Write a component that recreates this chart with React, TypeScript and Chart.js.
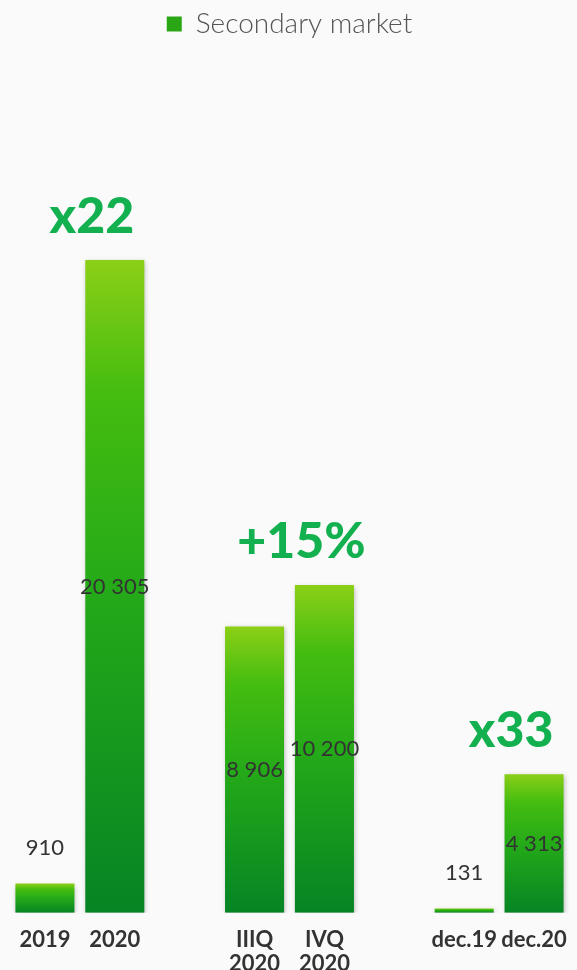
import React, { useEffect, useRef } from "react";
import { Chart, registerables } from "chart.js";

Chart.register(...registerables);

const categories: (string | string[])[] = ["2019", "2020", "", ["IIIQ", "2020"], ["IVQ", "2020"], "", "dec.19", "dec.20"];
const secondaryMarket: (number | null)[] = [910, 20305, null, 8906, 10200, null, 131, 4313];
const seriesName = "Secondary market";
const annotationTexts = ["x22", "+15%", "x33"];
const annotationPairs: number[][] = [[0, 1], [3, 4], [6, 7]];

const FONT = "Lato, 'Open Sans', sans-serif";

function fmt(v: number) {
  return String(v).replace(/\B(?=(\d{3})+(?!\d))/g, " ");
}

function barGradient(ctx: any) {
  const chart = ctx.chart;
  const raw = ctx.raw;
  if (ctx.type !== "data" || !chart.chartArea || raw == null || !chart.scales || !chart.scales.y) return "#2aa514";
  const y = chart.scales.y;
  const top = y.getPixelForValue(raw);
  const bottom = y.getPixelForValue(0);
  if (!isFinite(top) || !isFinite(bottom) || bottom - top < 0.5) return "#2aa514";
  const g = chart.ctx.createLinearGradient(0, top, 0, bottom);
  g.addColorStop(0, "#8ccf17");
  g.addColorStop(0.2, "#45bd10");
  g.addColorStop(0.5, "#25aa18");
  g.addColorStop(1, "#068424");
  return g;
}

const shadowPlugin = {
  id: "barShadow",
  beforeDatasetDraw(chart: any) {
    const c = chart.ctx;
    c.save();
    c.shadowColor = "rgba(0,0,0,0.28)";
    c.shadowBlur = 5;
    c.shadowOffsetX = 1;
    c.shadowOffsetY = 2;
  },
  afterDatasetDraw(chart: any) {
    chart.ctx.restore();
  },
};

const labelsPlugin = {
  id: "valueLabels",
  afterDatasetsDraw(chart: any) {
    const c = chart.ctx;
    const meta = chart.getDatasetMeta(0);
    const data = chart.data.datasets[0].data;
    c.save();
    c.font = `400 22px ${FONT}`;
    c.fillStyle = "#333333";
    c.textAlign = "center";
    c.textBaseline = "middle";
    meta.data.forEach((bar: any, i: number) => {
      const v = data[i];
      if (v == null) return;
      const h = bar.base - bar.y;
      const y = h < 40 ? bar.y - 36 : (bar.y + bar.base) / 2;
      c.fillText(fmt(v), bar.x, y);
    });
    c.font = `900 50px ${FONT}`;
    c.fillStyle = "#13b04f";
    annotationPairs.forEach((pair, k) => {
      const a = meta.data[pair[0]];
      const b = meta.data[pair[1]];
      if (!a || !b) return;
      const x = (a.x + b.x) / 2 + 12;
      const y = Math.min(a.y, b.y) - 43;
      c.fillText(annotationTexts[k], x, y);
    });
    c.restore();
  },
};

export default function App() {
  const ref = useRef<HTMLCanvasElement | null>(null);
  useEffect(() => {
    document.body.style.background = "#fafafa";
    if (!ref.current) return;
    const chart = new Chart(ref.current, {
      type: "bar",
      data: {
        labels: categories,
        datasets: [
          {
            label: seriesName,
            data: secondaryMarket,
            backgroundColor: barGradient,
            borderWidth: 0,
            barPercentage: 0.845,
            categoryPercentage: 1,
          },
        ],
      },
      options: {
        animation: false,
        responsive: true,
        maintainAspectRatio: false,
        layout: { padding: { left: 2, right: 0, top: 0, bottom: 0 } },
        plugins: {
          legend: {
            display: true,
            position: "top",
            labels: {
              boxWidth: 15,
              boxHeight: 15,
              padding: 2,
              color: "#555555",
              font: { family: FONT, size: 28, weight: "300" as any },
              generateLabels: (ch: any) => {
                const items = Chart.defaults.plugins.legend.labels.generateLabels(ch);
                return items.map((it: any) => ({ ...it, fillStyle: "#2aa514", strokeStyle: "#2aa514", lineWidth: 0 }));
              },
            },
          },
          tooltip: { enabled: false },
        },
        scales: {
          x: {
            grid: { display: false, drawTicks: false },
            border: { display: false },
            afterFit: (scale: any) => {
              scale.paddingLeft = 0;
              scale.paddingRight = 0;
            },
            ticks: {
              padding: 16,
              color: "#333333",
              maxRotation: 0,
              autoSkip: false,
              font: { family: FONT, size: 22, weight: "bold", lineHeight: 1.05 },
            },
          },
          y: {
            display: false,
            min: 0,
            max: 26900,
          },
        },
      },
      plugins: [shadowPlugin, labelsPlugin],
    });
    return () => chart.destroy();
  }, []);
  return (
    <div style={{ position: "relative", height: "983px" }}>
      <canvas ref={ref} />
    </div>
  );
}
